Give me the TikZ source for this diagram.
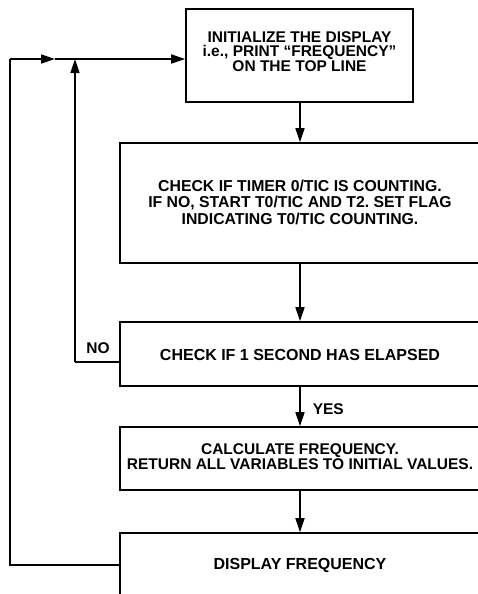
\documentclass[tikz,border=0pt]{standalone}
\usepackage{fontspec}
\setmainfont{Liberation Sans}
\usetikzlibrary{arrows.meta}
\frenchspacing

\tikzset{
  flowbox/.style={draw, line width=1.6pt, rectangle, inner sep=0pt},
  boxtext/.style={align=center, inner sep=0pt},
  flowline/.style={line width=1.6pt},
  flowarrow/.style={flowline, -{Triangle[length=14pt,width=9pt]}},
  lbl/.style={inner sep=0pt, font=\bfseries\fontsize{15.5}{17}\selectfont},
}

\begin{document}
\begin{tikzpicture}[x=1pt, y=-1pt, font=\bfseries]
  \useasboundingbox (0,0) rectangle (478,594);
  \clip (0,0) rectangle (478,594);

  % process boxes
  \node[flowbox, minimum width=227pt, minimum height=93pt] (init) at (299.5,55.5) {};
  \node[boxtext, font=\bfseries\fontsize{15.5}{14.5}\selectfont] (initText) at (299.5,51.5)
    {INITIALIZE THE DISPLAY\\i.e., PRINT “FREQUENCY”\\ON THE TOP LINE};

  \node[flowbox, minimum width=360pt, minimum height=120pt] (timer) at (300,203) {};
  \node[boxtext, font=\bfseries\fontsize{15.8}{16.5}\selectfont] (timerText) at (300,202)
    {CHECK IF TIMER 0/TIC IS COUNTING.\\IF NO, START T0/TIC AND T2. SET FLAG\\INDICATING T0/TIC COUNTING.};

  \node[flowbox, minimum width=360pt, minimum height=64pt] (elapsed) at (300,354) {};
  \node[boxtext, font=\bfseries\fontsize{16}{17}\selectfont] (elapsedText) at (300,355)
    {CHECK IF 1 SECOND HAS ELAPSED};

  \node[flowbox, minimum width=360pt, minimum height=63pt] (calc) at (300,458.5) {};
  \node[boxtext, font=\bfseries\fontsize{15.5}{13.5}\selectfont] (calcText) at (300,457)
    {CALCULATE FREQUENCY.\\RETURN ALL VARIABLES TO INITIAL VALUES.};

  \node[flowbox, minimum width=360pt, minimum height=64pt] (show) at (300,565) {};
  \node[boxtext, font=\bfseries\fontsize{16}{17}\selectfont] (showText) at (300,565)
    {DISPLAY FREQUENCY};

  % main flow
  \draw[flowarrow] (init.south -| 300,0) -- (timer.north);
  \draw[flowarrow] (timer.south) -- (elapsed.north);
  \draw[flowarrow] (elapsed.south) -- (calc.north)
    node[lbl, midway, right=12pt, yshift=-3pt] (yes) {YES};
  \draw[flowarrow] (calc.south) -- (show.north);

  % return loop back to the start
  \coordinate (corner) at (10,59);
  \coordinate (mid) at (55,59);
  \draw[flowline] (show.west) -- (show.west -| corner) -- (corner);
  \draw[flowarrow] (corner) -- (mid);
  \draw[flowarrow] (mid) -- (init.west |- corner);

  % "NO" branch
  \coordinate (nojoin) at (75,362);
  \draw[flowline] (elapsed.west |- nojoin) -- (nojoin);
  \draw[flowarrow] (nojoin) -- (nojoin |- corner);
  \node[lbl, anchor=center] (no) at (98,348) {NO};
\end{tikzpicture}
\end{document}
